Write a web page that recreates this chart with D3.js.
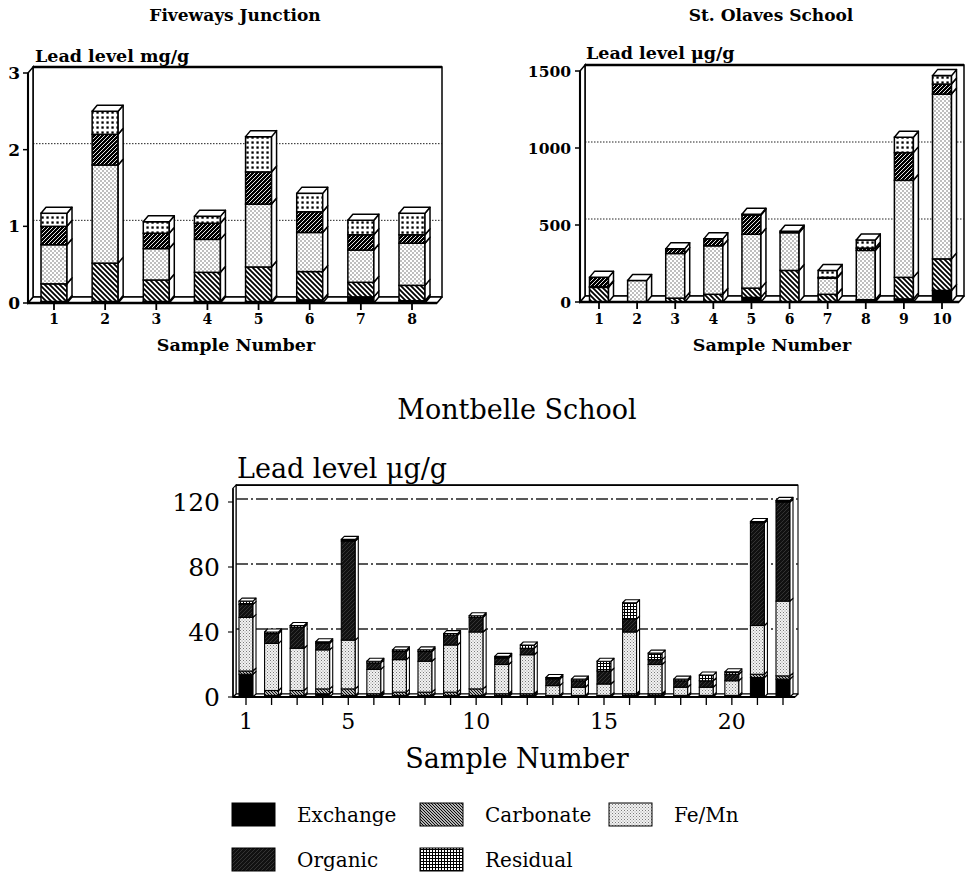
<!DOCTYPE html>
<html>
<head>
<meta charset="utf-8">
<script src="https://cdn.jsdelivr.net/npm/d3@7"></script>
<style>
  html, body { margin: 0; padding: 0; background: #fff; }
  svg { display: block; }
</style>
</head>
<body>
<svg id="chart" width="966" height="876"></svg>
<script>
// Lead fractions, stacked from the bottom: exchange, carbonate, Fe/Mn, organic, residual
const seriesNames = ["Exchange", "Carbonate", "Fe/Mn", "Organic", "Residual"];
const seriesKeys = ["exchange", "carbonate", "femn", "organic", "residual"];

// Fiveways Junction, lead level in mg/g
const fivewaysSamples   = [1, 2, 3, 4, 5, 6, 7, 8];
const fivewaysExchange  = [0.02, 0.02, 0.02, 0.02, 0.02, 0.04, 0.08, 0.03];
const fivewaysCarbonate = [0.23, 0.50, 0.28, 0.38, 0.45, 0.37, 0.19, 0.20];
const fivewaysFeMn      = [0.51, 1.28, 0.41, 0.43, 0.82, 0.51, 0.42, 0.55];
const fivewaysOrganic   = [0.24, 0.40, 0.20, 0.21, 0.42, 0.27, 0.20, 0.11];
const fivewaysResidual  = [0.17, 0.30, 0.15, 0.09, 0.46, 0.24, 0.19, 0.28];
const fivewaysTicks     = [0, 1, 2, 3];

// St. Olaves School, lead level in µg/g
const olavesSamples   = [1, 2, 3, 4, 5, 6, 7, 8, 9, 10];
const olavesExchange  = [0, 0, 0, 0, 30, 0, 0, 5, 20, 75];
const olavesCarbonate = [95, 0, 25, 50, 60, 205, 50, 10, 140, 205];
const olavesFeMn      = [5, 140, 290, 315, 350, 245, 105, 320, 630, 1070];
const olavesOrganic   = [60, 0, 30, 45, 125, 10, 5, 15, 180, 65];
const olavesResidual  = [0, 0, 0, 0, 5, 0, 45, 53, 100, 55];
const olavesTicks     = [0, 500, 1000, 1500];

// Montbelle School, lead level in µg/g
const montbelleSamples   = [1, 2, 3, 4, 5, 6, 7, 8, 9, 10, 11, 12, 13, 14, 15, 16, 17, 18, 19, 20, 21, 22];
const montbelleExchange  = [14, 1, 1, 2, 1, 1, 1, 1, 1, 1, 1, 1, 0, 0, 0, 1, 1, 0, 0, 0, 12, 11];
const montbelleCarbonate = [2, 3, 3, 3, 4, 1, 2, 2, 2, 4, 1, 1, 1, 1, 1, 1, 1, 1, 1, 1, 2, 2];
const montbelleFeMn      = [33, 29, 26, 24, 30, 15, 20, 19, 29, 35, 18, 24, 6, 5, 7, 38, 18, 5, 5, 9, 30, 46];
const montbelleOrganic   = [8, 6, 13, 4, 61, 4, 5, 6, 6, 9, 4, 4, 4, 4, 8, 8, 3, 4, 4, 4, 63, 61];
const montbelleResidual  = [2, 1, 1, 1, 1, 1, 1, 1, 1, 1, 1, 2, 1, 1, 6, 10, 4, 1, 3.5, 1.5, 1, 1];
const montbelleTicks     = [0, 40, 80, 120];
const montbelleXLabels   = [1, 5, 10, 15, 20];

const svg = d3.select("#chart");
const defs = svg.append("defs");

function addPattern(id, w, h, bg, draw) {
  const p = defs.append("pattern")
    .attr("id", id)
    .attr("patternUnits", "userSpaceOnUse")
    .attr("width", w).attr("height", h);
  p.append("rect").attr("width", w).attr("height", h).attr("fill", bg);
  draw(p);
}

// Coarse fills for the two upper charts
addPattern("t-carbonate", 5, 5, "#fff", p => p.append("path")
  .attr("d", "M-1,-1L6,6M-1,4L1,6M4,-1L6,1").attr("stroke", "#000").attr("stroke-width", 1.8));
addPattern("t-femn", 4, 4, "#fff", p => {
  p.append("rect").attr("x", 0.5).attr("y", 0.5).attr("width", 1).attr("height", 1).attr("fill", "#000");
  p.append("rect").attr("x", 2.5).attr("y", 2.5).attr("width", 1).attr("height", 1).attr("fill", "#000");
});
addPattern("t-organic", 4, 4, "#000", p => p.append("path")
  .attr("d", "M-1,5L5,-1M-1,1L1,-1M3,5L5,3").attr("stroke", "#fff").attr("stroke-width", 0.9));
addPattern("t-residual", 5, 5, "#fff", p => p.append("rect")
  .attr("x", 1.4).attr("y", 1.4).attr("width", 2.3).attr("height", 2.3).attr("fill", "#000"));

// Fine fills for the lower chart and its legend
addPattern("m-carbonate", 3, 3, "#fff", p => p.append("path")
  .attr("d", "M-1,-1L4,4M-1,2L1,4M2,-1L4,1").attr("stroke", "#000").attr("stroke-width", 1.1));
addPattern("m-femn", 3, 3, "#f2f2f2", p => {
  p.append("rect").attr("x", 0).attr("y", 0).attr("width", 1).attr("height", 1).attr("fill", "#7a7a7a");
  p.append("rect").attr("x", 1.5).attr("y", 1.5).attr("width", 1).attr("height", 1).attr("fill", "#969696");
});
addPattern("m-organic", 4, 4, "#111", p => p.append("path")
  .attr("d", "M-1,5L5,-1M-1,1L1,-1M3,5L5,3").attr("stroke", "#4a4a4a").attr("stroke-width", 0.6));
addPattern("m-residual", 3, 3, "#fff", p => p.append("path")
  .attr("d", "M0,0.5H3M0.5,0V3").attr("stroke", "#000").attr("stroke-width", 1));

function fills(prefix) {
  return {
    exchange: "#000",
    carbonate: `url(#${prefix}-carbonate)`,
    femn: `url(#${prefix}-femn)`,
    organic: `url(#${prefix}-organic)`,
    residual: `url(#${prefix}-residual)`
  };
}

function drawChart(cfg) {
  const g = svg.append("g");
  const x = d3.scalePoint().domain(cfg.samples).range(cfg.xRange);
  const y = d3.scaleLinear().domain([0, cfg.yMax]).range(cfg.yRange);
  const dx = cfg.dx, dy = cfg.dy;
  const y0 = y(0), yTop = y(cfg.frameTop);
  const xL = cfg.axisX, xR = cfg.wallRight;
  const sw = cfg.stroke;

  // back wall
  g.append("rect")
    .attr("x", xL + dx).attr("y", yTop + dy)
    .attr("width", xR - xL - dx).attr("height", y0 - yTop)
    .attr("fill", "#fff").attr("stroke", "#000").attr("stroke-width", sw);
  g.append("line")
    .attr("x1", xL + dx).attr("x2", xR).attr("y1", yTop + dy).attr("y2", yTop + dy)
    .attr("stroke", "#000").attr("stroke-width", sw * 1.6);

  // gridlines on the back wall
  g.selectAll(".grid").data(cfg.ticks.filter(v => v > 0 && v < cfg.frameTop)).join("line")
    .attr("x1", xL + dx).attr("x2", xR)
    .attr("y1", d => y(d) + dy).attr("y2", d => y(d) + dy)
    .attr("stroke", "#222").attr("stroke-width", cfg.gridWidth)
    .attr("stroke-dasharray", cfg.gridDash);

  // floor
  g.append("path")
    .attr("d", `M${xL},${y0}L${xR - dx},${y0}L${xR},${y0 + dy}L${xL + dx},${y0 + dy}Z`)
    .attr("fill", "#fff").attr("stroke", "#000").attr("stroke-width", sw)
    .attr("stroke-linejoin", "round");

  // left wall
  g.append("path")
    .attr("d", `M${xL},${y0}L${xL},${yTop}L${xL + dx},${yTop + dy}L${xL + dx},${y0 + dy}Z`)
    .attr("fill", "#fff").attr("stroke", "#000").attr("stroke-width", sw);

  // stacked 3-D bars
  const rows = cfg.samples.map((s, i) => {
    const r = { sample: s };
    seriesKeys.forEach((k, j) => { r[k] = cfg.values[j][i]; });
    return r;
  });
  const stacked = d3.stack().keys(seriesKeys)(rows);
  const fill = fills(cfg.pattern);
  const w = cfg.barWidth;

  rows.forEach((row, i) => {
    const bx = x(row.sample) - w / 2;
    const bar = g.append("g");
    stacked.forEach(layer => {
      const [a, b] = layer[i];
      if (b - a <= 0) return;
      const ya = y(a), yb = y(b);
      bar.append("rect")
        .attr("x", bx).attr("y", yb).attr("width", w).attr("height", ya - yb)
        .attr("fill", fill[layer.key]).attr("stroke", "#000").attr("stroke-width", sw);
      bar.append("path")
        .attr("d", `M${bx + w},${yb}L${bx + w + dx},${yb + dy}L${bx + w + dx},${ya + dy}L${bx + w},${ya}Z`)
        .attr("fill", "#fff").attr("stroke", "#000").attr("stroke-width", sw)
        .attr("stroke-linejoin", "round");
    });
    const total = stacked[stacked.length - 1][i][1];
    const yt = y(total);
    bar.append("path")
      .attr("d", `M${bx},${yt}L${bx + dx},${yt + dy}L${bx + w + dx},${yt + dy}L${bx + w},${yt}Z`)
      .attr("fill", "#fff").attr("stroke", "#000").attr("stroke-width", sw)
      .attr("stroke-linejoin", "round");
  });

  // front floor edge and axis line
  g.append("line").attr("x1", xL).attr("x2", xR - dx).attr("y1", y0).attr("y2", y0)
    .attr("stroke", "#000").attr("stroke-width", sw * 1.6);
  g.append("line").attr("x1", xL).attr("x2", xL).attr("y1", y0).attr("y2", yTop)
    .attr("stroke", "#000").attr("stroke-width", sw * 1.4);

  // y ticks and labels
  g.selectAll(".ytick").data(cfg.ticks).join("line")
    .attr("x1", xL - 5).attr("x2", xL).attr("y1", d => y(d)).attr("y2", d => y(d))
    .attr("stroke", "#000").attr("stroke-width", sw);
  g.selectAll(".ylab").data(cfg.ticks).join("text")
    .attr("x", cfg.yLabelX).attr("y", d => y(d)).attr("dy", "0.36em")
    .attr("text-anchor", "end")
    .attr("font-family", "DejaVu Serif").attr("font-weight", cfg.weight)
    .attr("font-size", cfg.tickFont)
    .text(d => d);

  // x ticks and labels
  g.selectAll(".xtick").data(cfg.samples).join("line")
    .attr("x1", d => x(d)).attr("x2", d => x(d)).attr("y1", y0).attr("y2", y0 + cfg.xTickLen)
    .attr("stroke", "#000").attr("stroke-width", sw * 1.2);
  g.selectAll(".xlab").data(cfg.xLabels).join("text")
    .attr("x", d => x(d)).attr("y", cfg.xLabelY)
    .attr("text-anchor", "middle")
    .attr("font-family", "DejaVu Serif").attr("font-weight", cfg.weight)
    .attr("font-size", cfg.xTickFont)
    .text(d => d);

  // titles
  g.append("text").attr("x", cfg.titleX).attr("y", cfg.titleY)
    .attr("text-anchor", "middle")
    .attr("font-family", "DejaVu Serif").attr("font-weight", cfg.weight)
    .attr("font-size", cfg.titleFont).text(cfg.title);
  g.append("text").attr("x", cfg.yTitleX).attr("y", cfg.yTitleY)
    .attr("font-family", "DejaVu Serif").attr("font-weight", cfg.weight)
    .attr("font-size", cfg.axisFont).text(cfg.yTitle);
  g.append("text").attr("x", cfg.xTitleX).attr("y", cfg.xTitleY)
    .attr("text-anchor", "middle")
    .attr("font-family", "DejaVu Serif").attr("font-weight", cfg.weight)
    .attr("font-size", cfg.axisFont).text("Sample Number");
}

drawChart({
  samples: fivewaysSamples,
  values: [fivewaysExchange, fivewaysCarbonate, fivewaysFeMn, fivewaysOrganic, fivewaysResidual],
  ticks: fivewaysTicks, yMax: 3, frameTop: 3,
  xRange: [54, 412], yRange: [303, 73],
  axisX: 28, wallRight: 442, dx: 5, dy: -6,
  barWidth: 26, stroke: 1.5, pattern: "t",
  gridDash: "1.5,1.5", gridWidth: 1,
  xLabels: fivewaysSamples, xTickLen: 7, xLabelY: 324,
  yLabelX: 20, weight: "bold", tickFont: 17, xTickFont: 14,
  title: "Fiveways Junction", titleX: 235, titleY: 21, titleFont: 17,
  yTitle: "Lead level mg/g", yTitleX: 35, yTitleY: 62,
  xTitleX: 236, xTitleY: 351, axisFont: 17.5
});

drawChart({
  samples: olavesSamples,
  values: [olavesExchange, olavesCarbonate, olavesFeMn, olavesOrganic, olavesResidual],
  ticks: olavesTicks, yMax: 1500, frameTop: 1500,
  xRange: [599, 942], yRange: [302, 71],
  axisX: 580, wallRight: 964, dx: 5, dy: -6,
  barWidth: 19, stroke: 1.5, pattern: "t",
  gridDash: "1.5,1.5", gridWidth: 1,
  xLabels: olavesSamples, xTickLen: 7, xLabelY: 324,
  yLabelX: 571, weight: "bold", tickFont: 15.5, xTickFont: 14,
  title: "St. Olaves School", titleX: 771, titleY: 21, titleFont: 17,
  yTitle: "Lead level \u03BCg/g", yTitleX: 586, yTitleY: 59,
  xTitleX: 772, xTitleY: 351, axisFont: 17.5
});

drawChart({
  samples: montbelleSamples,
  values: [montbelleExchange, montbelleCarbonate, montbelleFeMn, montbelleOrganic, montbelleResidual],
  ticks: montbelleTicks, yMax: 120, frameTop: 128.5,
  xRange: [246, 783], yRange: [697, 502],
  axisX: 233, wallRight: 798, dx: 3, dy: -3,
  barWidth: 14, stroke: 1.1, pattern: "m",
  gridDash: "12,3,2,3", gridWidth: 1.3,
  xLabels: montbelleXLabels, xTickLen: 8, xLabelY: 729,
  yLabelX: 220, weight: "normal", tickFont: 25, xTickFont: 22,
  title: "Montbelle School", titleX: 517, titleY: 419, titleFont: 27,
  yTitle: "Lead level \u03BCg/g", yTitleX: 237, yTitleY: 478,
  xTitleX: 517, xTitleY: 768, axisFont: 27
});

// legend
const legendFill = fills("m");
const legendItems = seriesKeys.map((k, i) => ({ key: k, name: seriesNames[i] }));
const legendX = d3.scaleOrdinal().domain(seriesKeys).range([232, 420, 609, 232, 420]);
const legendY = d3.scaleOrdinal().domain(seriesKeys).range([803, 803, 803, 848, 848]);
const legend = svg.append("g");
legend.selectAll("rect").data(legendItems).join("rect")
  .attr("x", d => legendX(d.key)).attr("y", d => legendY(d.key))
  .attr("width", 43).attr("height", 23)
  .attr("fill", d => legendFill[d.key])
  .attr("stroke", "#000").attr("stroke-width", 1);
legend.selectAll("text").data(legendItems).join("text")
  .attr("x", d => legendX(d.key) + 65).attr("y", d => legendY(d.key) + 19)
  .attr("font-family", "DejaVu Serif").attr("font-size", 20)
  .text(d => d.name);
</script>
</body>
</html>
